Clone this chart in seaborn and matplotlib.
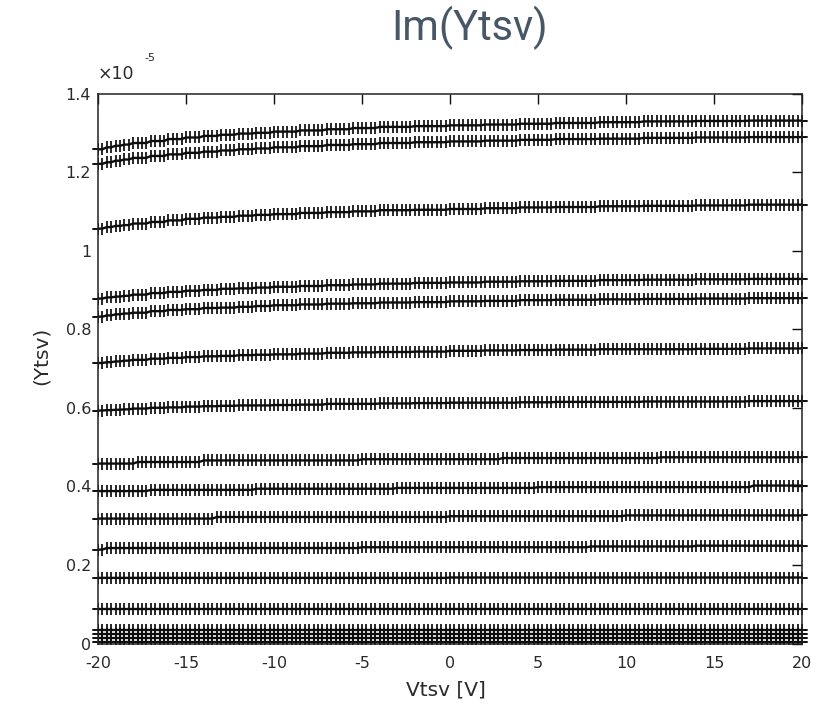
import numpy as np
import pandas as pd
import matplotlib
matplotlib.use("Agg")
import matplotlib.pyplot as plt
import seaborn as sns

# ---------------- data (values in units of 1e-5) ----------------
VOLTAGE_START = -20.0
VOLTAGE_STOP = 20.0
VOLTAGE_STEP = 0.25

# breakpoints (V) where the quantised reading changes, for the curved traces
CURVE_BREAKS = [-20, -19.5, -19, -18.5, -18, -17, -16, -15, -14, -13, -12, -11, -10,
                -8.5, -7, -5.5, -4, -2, 0, 2, 4, 6, 8.5, 11, 14, 17]

LEVELS_1 = [1.258, 1.263, 1.267, 1.270, 1.274, 1.279, 1.284, 1.288, 1.292, 1.295, 1.298, 1.300, 1.303,
            1.306, 1.309, 1.312, 1.315, 1.317, 1.319, 1.321, 1.323, 1.325, 1.327, 1.329, 1.330, 1.331]
LEVELS_2 = [1.221, 1.225, 1.229, 1.232, 1.236, 1.241, 1.245, 1.249, 1.252, 1.255, 1.258, 1.260, 1.263,
            1.266, 1.269, 1.271, 1.274, 1.276, 1.278, 1.280, 1.282, 1.284, 1.285, 1.287, 1.288, 1.289]
LEVELS_3 = [1.056, 1.060, 1.063, 1.065, 1.069, 1.073, 1.077, 1.081, 1.084, 1.086, 1.089, 1.091, 1.093,
            1.096, 1.098, 1.100, 1.103, 1.104, 1.106, 1.108, 1.110, 1.111, 1.113, 1.114, 1.115, 1.117]
LEVELS_4 = [0.878, 0.881, 0.883, 0.885, 0.888, 0.892, 0.895, 0.898, 0.900, 0.903, 0.904, 0.906, 0.908,
            0.910, 0.912, 0.914, 0.916, 0.918, 0.919, 0.921, 0.922, 0.923, 0.925, 0.926, 0.927, 0.928]
LEVELS_5 = [0.832, 0.835, 0.838, 0.840, 0.842, 0.846, 0.849, 0.851, 0.854, 0.855, 0.857, 0.859, 0.861,
            0.863, 0.865, 0.866, 0.868, 0.869, 0.871, 0.872, 0.874, 0.875, 0.876, 0.877, 0.878, 0.879]
LEVELS_6 = [0.714, 0.716, 0.718, 0.720, 0.722, 0.725, 0.727, 0.729, 0.731, 0.732, 0.734, 0.735, 0.736,
            0.738, 0.740, 0.741, 0.742, 0.743, 0.745, 0.746, 0.747, 0.748, 0.749, 0.749, 0.750, 0.751]
LEVELS_7 = [0.593, 0.594, 0.595, 0.596, 0.598, 0.600, 0.601, 0.603, 0.604, 0.605, 0.606, 0.606, 0.607,
            0.608, 0.610, 0.610, 0.611, 0.612, 0.613, 0.613, 0.614, 0.615, 0.615, 0.616, 0.616, 0.617]

# nearly flat traces: own breakpoints and levels
BREAKS_8 = [-20, -17.8, -14, -5, 3, 12]
LEVELS_8 = [0.458, 0.462, 0.466, 0.469, 0.472, 0.474]
BREAKS_9 = [-20, -17.2, -11.2, -3, 5, 17.2]
LEVELS_9 = [0.388, 0.391, 0.394, 0.396, 0.398, 0.402]
BREAKS_10 = [-20, -13.4, 0, 10]
LEVELS_10 = [0.318, 0.322, 0.324, 0.326]
BREAKS_11 = [-20, -19.5, -5, 8, 14]
LEVELS_11 = [0.239, 0.243, 0.245, 0.247, 0.249]
BREAKS_12 = [-20, 0]
LEVELS_12 = [0.167, 0.168]
BREAKS_13 = [-20]
LEVELS_13 = [0.087]
BREAKS_14 = [-20]
LEVELS_14 = [0.035]
BREAKS_15 = [-20]
LEVELS_15 = [0.024]
BREAKS_16 = [-20]
LEVELS_16 = [0.013]
BREAKS_17 = [-20]
LEVELS_17 = [0.003]

X_TICKS = [-20, -15, -10, -5, 0, 5, 10, 15, 20]
X_TICK_LABELS = ["-20", "-15", "-10", "-5", "0", "5", "10", "15", "20"]
Y_TICKS = [0, 0.2, 0.4, 0.6, 0.8, 1.0, 1.2, 1.4]
Y_TICK_LABELS = ["0", "0.2", "0.4", "0.6", "0.8", "1", "1.2", "1.4"]
TITLE = "Im(Ytsv)"
X_LABEL = "Vtsv [V]"
Y_LABEL = "(Ytsv)"
EXPONENT = "-5"

# ---------------- build long table ----------------
voltage = np.arange(VOLTAGE_START, VOLTAGE_STOP + VOLTAGE_STEP / 2, VOLTAGE_STEP)

series_specs = [
    (CURVE_BREAKS, LEVELS_1), (CURVE_BREAKS, LEVELS_2), (CURVE_BREAKS, LEVELS_3),
    (CURVE_BREAKS, LEVELS_4), (CURVE_BREAKS, LEVELS_5), (CURVE_BREAKS, LEVELS_6),
    (CURVE_BREAKS, LEVELS_7), (BREAKS_8, LEVELS_8), (BREAKS_9, LEVELS_9),
    (BREAKS_10, LEVELS_10), (BREAKS_11, LEVELS_11), (BREAKS_12, LEVELS_12),
    (BREAKS_13, LEVELS_13), (BREAKS_14, LEVELS_14), (BREAKS_15, LEVELS_15),
    (BREAKS_16, LEVELS_16), (BREAKS_17, LEVELS_17),
]

frames = []
for i, (brk, lev) in enumerate(series_specs):
    idx = np.searchsorted(np.asarray(brk, float), voltage, side="right") - 1
    y = np.asarray(lev, float)[idx]
    frames.append(pd.DataFrame({"V": voltage, "Y": y, "trace": i}))
df = pd.concat(frames, ignore_index=True)

# ---------------- style ----------------
sns.set_style("white")
plt.rcParams["font.family"] = ["DejaVu Sans"]
plt.rcParams["axes.unicode_minus"] = False

INK = "#0d0d0d"
TEXT = "#2a2a2a"

fig = plt.figure(figsize=(8.36, 7.14), dpi=100)
ax = fig.add_axes([98 / 836, 1 - 643.5 / 714, (802 - 98) / 836, (643.5 - 93.5) / 714])

sns.lineplot(data=df, x="V", y="Y", units="trace", estimator=None, color=INK,
             marker="|", markersize=8.3, markeredgewidth=1.25, markeredgecolor=INK,
             markerfacecolor=INK, linewidth=1.7, legend=False, ax=ax)

# short stubs at the line ends (MATLAB draws them slightly past the box)
for i, g in df.groupby("trace"):
    v0, v1 = g["V"].iloc[0], g["V"].iloc[-1]
    ax.plot([v0 - 0.3, v0], [g["Y"].iloc[0]] * 2, color=INK, lw=1.4, clip_on=False)
    ax.plot([v1, v1 + 0.3], [g["Y"].iloc[-1]] * 2, color=INK, lw=1.4, clip_on=False)

ax.set_xlim(X_TICKS[0], X_TICKS[-1])
ax.set_ylim(Y_TICKS[0], Y_TICKS[-1])
ax.set_xticks(X_TICKS)
ax.set_xticklabels(X_TICK_LABELS)
ax.set_yticks(Y_TICKS)
ax.set_yticklabels(Y_TICK_LABELS)
ax.tick_params(direction="in", length=7, width=1.0, top=True, right=True,
               labelsize=11.5, colors=INK, labelcolor=TEXT)
ax.tick_params(axis="x", pad=9)
ax.tick_params(axis="y", pad=5)
for s in ax.spines.values():
    s.set_color("#222222")
    s.set_linewidth(1.1)
    s.set_visible(True)

ax.set_xlabel("")
ax.set_ylabel("")
fig.text(446 / 836, 1 - 690 / 714, X_LABEL, ha="center", va="center",
         fontsize=14.5, color=TEXT)
fig.text(41 / 836, 1 - 356 / 714, Y_LABEL, ha="center", va="center",
         rotation=90, fontsize=14.5, color=TEXT)

# exponent label
fig.text(98 / 836, 1 - 74 / 714, "\u00d710", ha="left", va="center",
         fontsize=12.5, color=TEXT)
fig.text(144 / 836, 1 - 58 / 714, EXPONENT, ha="left", va="center",
         fontsize=8, color=TEXT)

# title
fig.text(470 / 836, 1 - 28 / 714, TITLE, ha="center", va="center",
         fontsize=30, color="#475766", family=["Roboto", "DejaVu Sans"])

fig.savefig("out.png", dpi=100, facecolor="white")
